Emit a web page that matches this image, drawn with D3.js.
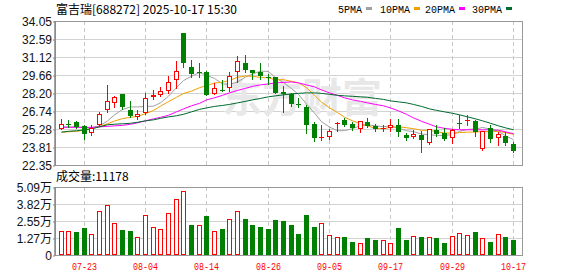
<!DOCTYPE html>
<html>
<head>
<meta charset="utf-8">
<script src="https://cdn.jsdelivr.net/npm/d3@7"></script>
<style>
body { margin: 0; background: #fff; }
</style>
</head>
<body>
<div id="wrapper"></div>
<script>
const dates = ["07-18","07-21","07-22","07-23","07-24","07-25","07-28","07-29","07-30","07-31",
  "08-01","08-04","08-05","08-06","08-07","08-08","08-11","08-12","08-13","08-14",
  "08-15","08-18","08-19","08-20","08-21","08-22","08-25","08-26","08-27","08-28",
  "08-29","09-01","09-02","09-03","09-04","09-05","09-08","09-09","09-10","09-11",
  "09-12","09-15","09-16","09-17","09-18","09-19","09-22","09-23","09-24","09-25",
  "09-26","09-29","09-30","10-09","10-10","10-13","10-14","10-15","10-16","10-17"]

const open = [25.27,25.71,25.86,25.54,24.94,25.59,26.83,27.37,28.13,26.83,
  26.27,26.56,27.89,28.02,28.40,29.24,33.08,30.32,29.92,29.94,
  28.13,28.45,28.59,29.89,30.62,30.05,29.94,29.48,29.46,28.30,
  28.13,27.27,27.05,25.67,24.60,24.62,25.70,26.02,25.70,25.27,
  25.84,25.48,25.27,25.35,25.59,24.75,24.59,24.75,24.10,25.21,
  24.91,24.54,25.75,25.97,25.94,23.64,25.35,24.54,24.67,24.08]
const close = [25.67,25.68,25.43,24.86,25.32,26.48,27.56,27.89,27.05,26.35,
  26.48,27.78,28.00,28.37,29.08,29.97,30.62,29.75,29.87,28.05,
  28.59,28.42,29.62,30.78,30.08,29.81,29.62,29.45,28.24,28.15,
  27.32,27.22,25.64,24.54,24.64,25.13,25.75,25.62,25.35,25.92,
  25.48,25.27,25.32,25.59,25.03,24.51,24.86,24.35,25.27,24.83,
  24.46,25.18,25.70,26.02,25.00,25.10,24.46,24.89,24.13,23.46]
const high = [26.10,26.02,25.94,25.59,25.59,26.64,28.86,27.99,28.15,27.51,
  26.81,28.21,28.43,28.70,29.56,30.81,33.10,30.89,30.64,30.02,
  29.00,29.24,29.89,31.24,31.32,30.08,30.64,29.75,29.54,28.78,
  28.18,27.78,27.24,25.86,25.59,25.27,25.84,26.16,25.84,25.95,
  26.16,25.70,25.62,26.05,26.08,24.99,25.16,25.10,25.30,25.59,
  25.32,25.27,26.40,26.40,25.97,25.13,25.59,25.05,25.03,24.18]
const low = [25.25,25.43,25.38,24.46,24.78,25.55,26.67,27.10,26.89,26.21,
  26.10,26.48,27.70,27.98,28.18,28.59,30.35,29.54,29.48,28.02,
  28.10,28.37,28.35,29.13,29.94,29.37,29.37,28.97,28.18,26.69,
  27.16,27.10,24.94,24.29,24.40,24.46,25.13,25.48,25.16,25.03,
  25.40,25.08,25.13,25.13,24.67,24.35,24.54,23.40,24.02,24.73,
  24.38,24.10,25.32,25.64,24.67,23.56,24.24,23.94,23.97,23.43]

// volume, in 万 shares
const volume = [1.79,1.79,1.71,2.03,1.54,3.28,3.77,2.38,1.86,1.79,
  1.34,3.03,2.08,1.94,3.18,4.17,4.76,2.23,2.21,2.90,
  1.76,1.94,2.66,3.33,2.68,2.23,2.08,1.94,2.61,2.53,
  2.23,1.56,2.98,2.08,2.43,1.46,1.32,1.34,0.97,0.87,
  1.27,1.12,1.09,0.87,2.01,1.12,1.41,1.34,1.34,1.27,
  0.89,1.41,1.61,1.46,1.71,1.27,0.97,1.56,1.34,1.1178]

const ma5 = [25.45,25.45,25.45,25.38,25.37,25.53,25.93,26.42,26.86,27.07,
  27.07,27.11,27.13,27.40,27.94,28.64,29.21,29.56,29.86,29.65,
  29.38,28.94,28.91,29.09,29.50,29.74,29.98,29.95,29.44,29.05,
  28.56,28.08,27.31,26.57,25.87,25.43,25.14,25.14,25.30,25.55,
  25.62,25.53,25.47,25.52,25.34,25.14,25.06,24.87,24.80,24.76,
  24.75,24.82,25.09,25.24,25.27,25.40,25.26,25.09,24.72,24.41]
const ma10 = [25.01,25.05,25.09,25.17,25.29,25.48,25.70,25.92,26.12,26.22,
  26.30,26.52,26.78,27.13,27.50,27.85,28.16,28.35,28.63,28.80,
  29.01,29.07,29.23,29.48,29.58,29.56,29.46,29.43,29.27,29.28,
  29.15,29.03,28.63,28.01,27.46,27.00,26.61,26.23,25.94,25.71,
  25.53,25.33,25.30,25.41,25.45,25.38,25.30,25.17,25.16,25.05,
  24.95,24.94,24.98,25.02,25.02,25.08,25.04,25.09,24.98,24.84]
const ma20 = [25.41,25.41,25.41,25.41,25.41,25.45,25.49,25.53,25.57,25.66,
  25.78,25.94,26.10,26.22,26.39,26.67,26.91,27.16,27.36,27.64,
  27.81,28.01,28.21,28.41,28.58,28.74,28.86,28.94,29.02,29.06,
  29.10,29.02,28.86,28.70,28.45,28.21,28.01,27.81,27.64,27.52,
  27.40,27.27,27.16,26.99,26.75,26.47,26.18,25.90,25.66,25.45,
  25.33,25.25,25.21,25.21,25.21,25.21,25.21,25.17,25.05,24.89]
const ma30 = [25.02,25.09,25.13,25.21,25.29,25.45,25.62,25.66,25.70,25.74,
  25.82,25.94,26.02,26.14,26.26,26.35,26.47,26.67,26.87,26.99,
  27.11,27.19,27.27,27.40,27.52,27.64,27.76,27.89,27.97,28.05,
  28.13,28.17,28.21,28.21,28.17,28.09,28.01,27.97,27.93,27.89,
  27.85,27.76,27.68,27.56,27.48,27.40,27.27,27.11,26.91,26.79,
  26.67,26.55,26.43,26.26,26.10,25.94,25.74,25.53,25.37,25.21]

const labelDates = ["07-23","08-04","08-14","08-26","09-05","09-17","09-29","10-17"]
const priceTicks = [22.35,23.81,25.28,26.74,28.20,29.66,31.12,32.59,34.05]
const volTicks = [0,1.27,2.55,3.82,5.09]
const volLabels = ["0","1.27万","2.55万","3.82万","5.09万"]

const maNames = ["5PMA","10PMA","20PMA","30PMA"]
const maColors = ["#a0a0a0","#f0a000","#ff00ff","#006a30"]
const maSeries = [ma5, ma10, ma20, ma30]

width = 578
height = 276
left = 55
right = 522
priceTop = 21
priceBottom = 165
volTop = 187
volBottom = 255

const red = "#ff0000"
const green = "#008000"
const gridColor = "#d2d2d2"
const borderColor = "#999"

const svg = d3.select("#wrapper").append("svg")
    .attr("width", width)
    .attr("height", height)
    .style("display", "block")

const x = d3.scalePoint().domain(d3.range(dates.length)).range([60.5, 513])
const cx = i => Math.round(x(i)) + 0.5
const y = d3.scaleLinear().domain([22.35, 34.05]).range([priceBottom, priceTop])
const yv = d3.scaleLinear().domain([0, 5.09]).range([volBottom, volTop])

// horizontal grid
svg.append("g").selectAll("line")
    .data(priceTicks)
    .join("line")
    .attr("x1", left).attr("x2", right)
    .attr("y1", d => Math.round(y(d)) + 0.5).attr("y2", d => Math.round(y(d)) + 0.5)
    .attr("stroke", gridColor)
svg.append("g").selectAll("line")
    .data(volTicks)
    .join("line")
    .attr("x1", left).attr("x2", right)
    .attr("y1", d => Math.round(yv(d)) + 0.5).attr("y2", d => Math.round(yv(d)) + 0.5)
    .attr("stroke", gridColor)

// vertical dashed grid
const labelIdx = labelDates.map(d => dates.indexOf(d))
for (const [t, b] of [[priceTop, priceBottom], [volTop, volBottom]]) {
    svg.append("g").selectAll("line")
        .data(labelIdx)
        .join("line")
        .attr("x1", cx).attr("x2", cx)
        .attr("y1", t).attr("y2", b)
        .attr("stroke", "#c8c8c8")
        .attr("stroke-dasharray", "4,3")
}

// watermark
svg.append("text")
    .attr("x", 382).attr("y", 112)
    .attr("text-anchor", "end")
    .style("font", "bold 40px 'Noto Sans CJK SC'")
    .attr("fill", "#e8e8e8")
    .text("东方财富")

// moving averages
maSeries.forEach((s, k) => {
    svg.append("path")
        .datum(s)
        .attr("fill", "none")
        .attr("stroke", maColors[k])
        .attr("stroke-width", 1)
        .attr("d", d3.line().x((d, i) => cx(i)).y(d => y(d)))
})

// candles
const candles = svg.append("g")
dates.forEach((d, i) => {
    const up = close[i] >= open[i]
    const col = up ? red : green
    const xc = cx(i)
    const top = Math.round(y(Math.max(open[i], close[i])))
    const bot = Math.round(y(Math.min(open[i], close[i])))
    const hi = Math.round(y(high[i]))
    const lo = Math.round(y(low[i]))
    const g = candles.append("g")
    if (bot - top < 2) {
        g.append("line").attr("x1", xc).attr("x2", xc).attr("y1", hi).attr("y2", lo + 1).attr("stroke", col)
        g.append("rect").attr("x", xc - 2.5).attr("y", top).attr("width", 5).attr("height", Math.max(1, bot - top)).attr("fill", col)
    } else if (up) {
        g.append("line").attr("x1", xc).attr("x2", xc).attr("y1", hi).attr("y2", top).attr("stroke", col)
        g.append("line").attr("x1", xc).attr("x2", xc).attr("y1", bot).attr("y2", lo + 1).attr("stroke", col)
        g.append("rect").attr("x", xc - 2).attr("y", top + 0.5).attr("width", 4).attr("height", bot - top - 1)
            .attr("fill", "#fff").attr("stroke", col)
    } else {
        g.append("line").attr("x1", xc).attr("x2", xc).attr("y1", hi).attr("y2", lo + 1).attr("stroke", col)
        g.append("rect").attr("x", xc - 2.5).attr("y", top).attr("width", 5).attr("height", bot - top).attr("fill", col)
    }
})

// volume bars, coloured against the previous close
svg.append("g").selectAll("rect")
    .data(volume)
    .join("rect")
    .each(function (v, i) {
        const up = i == 0 ? close[i] >= open[i] : close[i] >= close[i - 1]
        const top = Math.round(yv(v))
        const r = d3.select(this)
        if (up) {
            r.attr("x", cx(i) - 2).attr("y", top + 0.5).attr("width", 4).attr("height", volBottom - top - 1)
                .attr("fill", "#fff").attr("stroke", red)
        } else {
            r.attr("x", cx(i) - 2.5).attr("y", top).attr("width", 5).attr("height", volBottom - top)
                .attr("fill", green)
        }
    })

// frames
for (const [t, b] of [[priceTop, priceBottom], [volTop, volBottom]]) {
    svg.append("rect")
        .attr("x", left + 0.5).attr("y", t + 0.5)
        .attr("width", right - left).attr("height", b - t)
        .attr("fill", "none")
        .attr("stroke", borderColor)
}
svg.append("line")
    .attr("x1", left).attr("x2", left).attr("y1", priceTop).attr("y2", priceBottom + 1)
    .attr("stroke", "#888").attr("stroke-width", 1.5)
svg.append("line")
    .attr("x1", left).attr("x2", left).attr("y1", volTop).attr("y2", volBottom + 1)
    .attr("stroke", "#888").attr("stroke-width", 1.5)

// y axes
const yAxis = g => g
    .attr("transform", `translate(${left},0.5)`)
    .call(d3.axisLeft(y).tickValues(priceTicks).tickFormat(d3.format(".2f")).tickSize(2).tickPadding(1))
    .call(g => g.select(".domain").remove())
    .call(g => g.selectAll("line").attr("stroke", "#888"))
    .call(g => g.selectAll("text").style("font", "12px 'Liberation Sans'").attr("fill", "#111"))
svg.append("g").call(yAxis)

const vAxis = g => g
    .attr("transform", `translate(${left},0.5)`)
    .call(d3.axisLeft(yv).tickValues(volTicks).tickFormat((d, i) => volLabels[i]).tickSize(2).tickPadding(1))
    .call(g => g.select(".domain").remove())
    .call(g => g.selectAll("line").attr("stroke", "#888"))
    .call(g => g.selectAll("text").style("font", "12px 'Liberation Sans', 'Noto Sans CJK SC'").attr("fill", "#111"))
svg.append("g").call(vAxis)

// x labels
svg.append("g").selectAll("text")
    .data(labelIdx)
    .join("text")
    .attr("x", cx)
    .attr("y", 270)
    .attr("text-anchor", "middle")
    .attr("textLength", 25)
    .attr("lengthAdjust", "spacingAndGlyphs")
    .style("font", "11.5px 'Liberation Mono'")
    .attr("fill", red)
    .text(i => dates[i])

// title
svg.append("text")
    .attr("x", 56).attr("y", 14)
    .style("font", "12px 'Noto Sans CJK SC'")
    .attr("fill", "#000")
    .text("富吉瑞[688272] 2025-10-17 15:30")

// legend
const legendX = [338, 380, 425, 472]
const legend = svg.append("g")
maNames.forEach((name, k) => {
    legend.append("text")
        .attr("x", legendX[k]).attr("y", 12.5)
        .attr("textLength", name.length * 6)
        .attr("lengthAdjust", "spacingAndGlyphs")
        .style("font", "11px 'Liberation Mono'")
        .attr("fill", "#000")
        .text(name)
    legend.append("rect")
        .attr("x", legendX[k] + name.length * 6 + 4).attr("y", 7)
        .attr("width", 6).attr("height", 3)
        .attr("fill", maColors[k])
})

// volume caption
svg.append("text")
    .attr("x", 56).attr("y", 181)
    .style("font", "12px 'Noto Sans CJK SC'")
    .attr("fill", "#000")
    .text("成交量:" + Math.round(volume[volume.length - 1] * 10000))
</script>
</body>
</html>
